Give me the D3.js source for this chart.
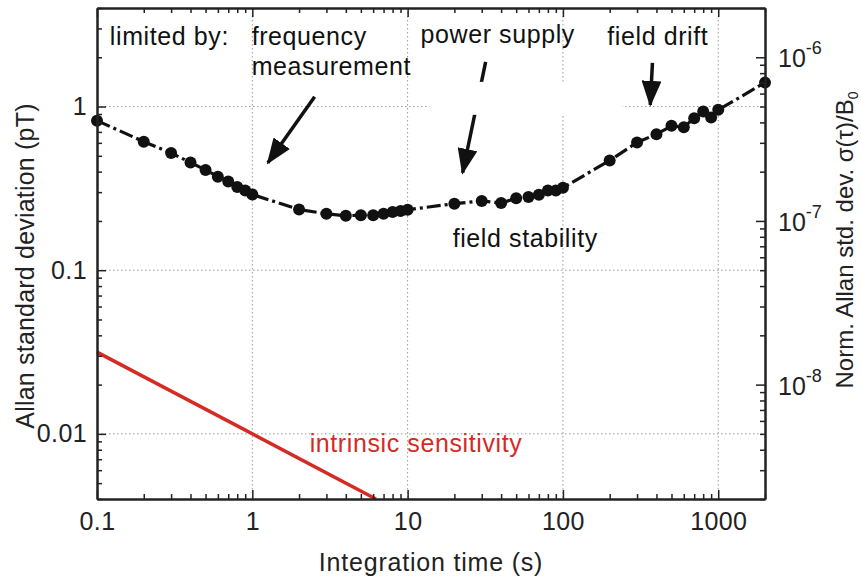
<!DOCTYPE html>
<html>
<head>
  <meta charset="utf-8">
  <title>Allan deviation</title>
  <script src="https://d3js.org/d3.v7.min.js"></script>
  <style>
    body { margin: 0; background: white; }
    text { font-family: "Liberation Sans", Arial, sans-serif; }
  </style>
</head>
<body>
<div id="chart"></div>

<script type="text/javascript">

  // measured Allan deviation (pT) vs integration time (s)
  var tau = [0.1, 0.2, 0.3, 0.4, 0.5, 0.6, 0.7, 0.8, 0.9, 1,
             2, 3, 4, 5, 6, 7, 8, 9, 10,
             20, 30, 40, 50, 60, 70, 80, 90, 100,
             200, 300, 400, 500, 600, 700, 800, 900, 1000, 2000];
  var sigma = [0.82, 0.61, 0.52, 0.455, 0.41, 0.373, 0.348, 0.322, 0.307, 0.29,
               0.235, 0.221, 0.215, 0.217, 0.217, 0.221, 0.227, 0.23, 0.234,
               0.255, 0.265, 0.257, 0.275, 0.28, 0.289, 0.307, 0.307, 0.319,
               0.468, 0.603, 0.678, 0.762, 0.748, 0.849, 0.932, 0.857, 0.955, 1.40];

  // intrinsic sensitivity line
  var intrinsicTau = [0.1, 6.25];
  var intrinsicSigma = [0.0316, 0.004];

  // tick labels
  var xMajor = [0.1, 1, 10, 100, 1000];
  var xTickLabels = ["0.1", "1", "10", "100", "1000"];
  var yMajor = [0.01, 0.1, 1];
  var yTickLabels = ["0.01", "0.1", "1"];
  var rMajor = [1e-8, 1e-7, 1e-6];
  var rTickExp = ["-8", "-7", "-6"];

  // annotation texts and arrows (data coordinates)
  var labelText = ["limited by:", "frequency", "measurement", "power supply", "field drift", "field stability", "intrinsic sensitivity"];
  var labelTau = [0.121, 0.99, 0.99, 12.1, 193, 19.5, 2.34];
  var labelSigma = [2.38, 2.38, 1.56, 2.45, 2.38, 0.139, 0.0078];
  var arrowFrom = [[2.52, 1.146], [31.8, 1.875], [377, 1.85]];
  var arrowTo = [[1.26, 0.453], [22.6, 0.394], [365, 1.024]];

  var w = 861;
  var h = 580;
  var margin = {top: 8, right: 96, bottom: 81, left: 97},
      wChart = w - margin.left - margin.right,
      hChart = h - margin.top - margin.bottom;

  var red = "#d52b24";

  var x = d3.scaleLog().domain([0.1, 2000]).range([0, wChart]);
  var y = d3.scaleLog().domain([0.004, 4]).range([hChart, 0]);
  // normalised axis: sigma / B0, B0 = 2 uT
  var yR = d3.scaleLog().domain([0.004 * 5e-7, 4 * 5e-7]).range([hChart, 0]);

  var svg = d3.select("#chart").append("svg")
      .attr("width", w)
      .attr("height", h);

  var defs = svg.append("defs");
  defs.append("marker")
      .attr("id", "head")
      .attr("markerUnits", "userSpaceOnUse")
      .attr("viewBox", "0 -10 26 20")
      .attr("refX", 24)
      .attr("refY", 0)
      .attr("markerWidth", 26)
      .attr("markerHeight", 20)
      .attr("orient", "auto")
      .append("path")
      .attr("d", "M0,-10L26,0L0,10Z")
      .attr("fill", "#111");

  var chart = svg.append("g")
      .attr("transform", "translate(" + margin.left + "," + margin.top + ")");

  // grid
  chart.selectAll(".gx").data(xMajor.slice(1)).enter().append("line")
      .attr("x1", function(d){ return x(d); }).attr("x2", function(d){ return x(d); })
      .attr("y1", 0).attr("y2", hChart)
      .attr("stroke", "#999").attr("stroke-width", 1).attr("stroke-dasharray", "1.5,2.5");
  chart.selectAll(".gy").data(yMajor).enter().append("line")
      .attr("y1", function(d){ return y(d); }).attr("y2", function(d){ return y(d); })
      .attr("x1", 0).attr("x2", wChart)
      .attr("stroke", "#999").attr("stroke-width", 1).attr("stroke-dasharray", "1.5,2.5");

  // arrows
  chart.selectAll(".arrow").data(arrowFrom).enter().append("line")
      .attr("x1", function(d){ return x(d[0]); })
      .attr("y1", function(d){ return y(d[1]); })
      .attr("x2", function(d, i){ return x(arrowTo[i][0]); })
      .attr("y2", function(d, i){ return y(arrowTo[i][1]); })
      .attr("stroke", "#111").attr("stroke-width", 3.5)
      .attr("marker-end", "url(#head)");

  // white label box hiding grid and arrow behind "power supply"
  chart.append("rect")
      .attr("x", x(13.8)).attr("y", y(1.415))
      .attr("width", x(241) - x(13.8)).attr("height", y(0.89) - y(1.415))
      .attr("fill", "white");

  // intrinsic sensitivity
  chart.append("path")
      .datum(d3.zip(intrinsicTau, intrinsicSigma))
      .attr("d", d3.line().x(function(d){ return x(d[0]); }).y(function(d){ return y(d[1]); }))
      .attr("fill", "none").attr("stroke", red).attr("stroke-width", 3.5);

  // measured data
  var pts = d3.zip(tau, sigma);
  chart.append("path")
      .datum(pts)
      .attr("d", d3.line().x(function(d){ return x(d[0]); }).y(function(d){ return y(d[1]); }))
      .attr("fill", "none").attr("stroke", "#111").attr("stroke-width", 3.2)
      .attr("stroke-dasharray", "14,4,3,4");
  chart.selectAll(".circles").data(pts).enter().append("circle")
      .attr("class", "circles")
      .attr("cx", function(d){ return x(d[0]); })
      .attr("cy", function(d){ return y(d[1]); })
      .attr("r", 6)
      .attr("fill", "#111");

  // axes
  function minors(scale, majors) {
    return scale.ticks().filter(function(t){
      return !majors.some(function(m){ return Math.abs(m - t) / m < 1e-6; });
    });
  }
  function styleAxis(g) {
    g.select(".domain").attr("stroke", "#222").attr("stroke-width", 2);
    g.selectAll(".tick line").attr("stroke", "#222").attr("stroke-width", 1.5);
    g.selectAll("text").attr("fill", "#222").style("font-size", "25px")
        .style("letter-spacing", "0.4px")
        .style("font-family", "'Liberation Sans', Arial, sans-serif");
  }

  var xMinor = minors(x, xMajor);
  var yMinor = minors(y, yMajor);
  var rMinor = minors(yR, rMajor);

  // bottom
  chart.append("g").attr("transform", "translate(0," + hChart + ")")
      .call(d3.axisBottom(x).tickValues(xMajor).tickSize(-9).tickSizeOuter(0).tickPadding(13)
          .tickFormat(function(d, i){ return xTickLabels[i]; }))
      .call(styleAxis);
  chart.append("g").attr("transform", "translate(0," + hChart + ")")
      .call(d3.axisBottom(x).tickValues(xMinor).tickSize(-5).tickSizeOuter(0).tickFormat(""))
      .call(styleAxis);
  // top
  chart.append("g")
      .call(d3.axisTop(x).tickValues(xMajor).tickSize(-9).tickSizeOuter(0).tickFormat(""))
      .call(styleAxis);
  chart.append("g")
      .call(d3.axisTop(x).tickValues(xMinor).tickSize(-5).tickSizeOuter(0).tickFormat(""))
      .call(styleAxis);
  // left
  chart.append("g")
      .call(d3.axisLeft(y).tickValues(yMajor).tickSize(-9).tickSizeOuter(0).tickPadding(10)
          .tickFormat(function(d, i){ return yTickLabels[i]; }))
      .call(styleAxis);
  chart.append("g")
      .call(d3.axisLeft(y).tickValues(yMinor).tickSize(-5).tickSizeOuter(0).tickFormat(""))
      .call(styleAxis);
  // right
  var right = chart.append("g").attr("transform", "translate(" + wChart + ",0)");
  right.call(d3.axisRight(yR).tickValues(rMajor).tickSize(-9).tickSizeOuter(0).tickFormat(""))
      .call(styleAxis);
  chart.append("g").attr("transform", "translate(" + wChart + ",0)")
      .call(d3.axisRight(yR).tickValues(rMinor).tickSize(-5).tickSizeOuter(0).tickFormat(""))
      .call(styleAxis);

  var rl = right.selectAll(".rlab").data(rMajor).enter().append("text")
      .attr("x", 13)
      .attr("y", function(d){ return yR(d) + 10; })
      .attr("fill", "#222")
      .style("font-size", "25px");
  rl.append("tspan").text("10");
  rl.append("tspan").attr("dy", -13).style("font-size", "18px")
      .text(function(d, i){ return rTickExp[i]; });

  // annotations
  chart.selectAll(".lab").data(labelText).enter().append("text")
      .attr("x", function(d, i){ return x(labelTau[i]); })
      .attr("y", function(d, i){ return y(labelSigma[i]); })
      .attr("fill", function(d, i){ return i == 6 ? red : "#111"; })
      .style("font-size", "25px")
      .style("letter-spacing", "0.6px")
      .text(function(d){ return d; });

  // axis titles
  svg.append("text")
      .attr("x", margin.left + wChart / 2).attr("y", 571)
      .attr("text-anchor", "middle")
      .attr("fill", "#222")
      .style("font-size", "25px").style("letter-spacing", "0.8px")
      .text("Integration time (s)");

  svg.append("text")
      .attr("transform", "translate(34,266) rotate(-90)")
      .attr("text-anchor", "middle")
      .attr("fill", "#222")
      .style("font-size", "25px").style("letter-spacing", "0.2px")
      .text("Allan standard deviation (pT)");

  var rt = svg.append("text")
      .attr("transform", "translate(853,240) rotate(-90)")
      .attr("text-anchor", "middle")
      .attr("fill", "#222")
      .style("font-size", "24px");
  rt.append("tspan").text("Norm. Allan std. dev. \u03c3(\u03c4)/B");
  rt.append("tspan").attr("dy", 5).style("font-size", "14px").text("0");

</script>
</body>
</html>
